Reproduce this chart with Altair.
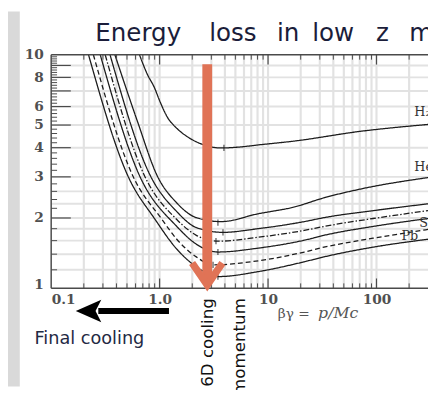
import altair as alt
import pandas as pd

# ---------------- data ----------------
materials = ["H2 liquid", "He gas", "C", "Al", "Fe", "Sn", "Pb"]

h2_bg   = [0.652, 0.771, 0.891, 1.01, 1.169, 1.44, 1.774, 2.42, 3.68, 5.58, 8.12, 17.5, 71, 299]
h2_dedx = [10.0, 8.24, 7.27, 6.29, 5.44, 4.84, 4.48, 4.15, 3.99, 4.03, 4.11, 4.27, 4.70, 5.03]
he_bg   = [0.387, 0.625, 0.948, 1.44, 2.18, 3.68, 8.12, 17.5, 32.8, 71, 299]
he_dedx = [10.0, 5.18, 3.04, 2.32, 2.007, 1.93, 2.085, 2.23, 2.44, 2.66, 2.98]
c_bg    = [0.349, 0.820, 1.44, 2.18, 3.84, 8.12, 21.6, 32.8, 93, 299]
c_dedx  = [10.0, 3.04, 2.13, 1.82, 1.736, 1.80, 1.93, 2.007, 2.15, 2.30]
al_bg   = [0.315, 0.724, 1.44, 2.18, 3.45, 8.12, 21.6, 32.8, 93, 299]
al_dedx = [10.0, 3.04, 1.97, 1.686, 1.591, 1.654, 1.77, 1.84, 1.99, 2.15]
fe_bg   = [0.2835, 0.652, 1.44, 2.18, 3.45, 8.12, 21.6, 32.8, 93, 299]
fe_dedx = [10.0, 3.04, 1.84, 1.545, 1.43, 1.486, 1.607, 1.686, 1.84, 1.99]
sn_bg   = [0.245, 0.564, 1.053, 1.44, 2.18, 3.11, 8.12, 21.6, 32.8, 93, 299]
sn_dedx = [10.0, 3.04, 1.97, 1.622, 1.363, 1.261, 1.311, 1.43, 1.50, 1.638, 1.787]
pb_bg   = [0.221, 0.508, 0.910, 1.44, 2.18, 3.53, 8.12, 21.6, 32.8, 93, 299]
pb_dedx = [10.0, 3.04, 1.97, 1.472, 1.237, 1.123, 1.179, 1.299, 1.363, 1.50, 1.622]

# minimum-ionisation markers
min_bg   = [3.92, 3.45, 3.84, 3.31, 3.45, 3.11, 3.45]
min_dedx = [3.99, 1.912, 1.736, 1.591, 1.43, 1.261, 1.123]

# axis ticks / labels
x_label_values = [0.1, 1, 10, 100]
x_label_text = ["0.1", "1.0", "10", "100"]
y_label_values = [1, 2, 3, 4, 5, 6, 8, 10]
grid_x = [0.2, 0.3, 0.4, 0.5, 0.6, 0.7, 0.8, 0.9, 1, 2, 3, 4, 5, 6, 7, 8, 9,
          10, 20, 30, 40, 50, 60, 70, 80, 90, 100, 200]
grid_y = [1.2, 1.4, 1.6, 1.8, 2, 2.3, 2.6, 3, 4, 5, 6, 7, 8, 9]
x_major_ticks = [1, 10, 100]
x_minor_ticks = [v for v in grid_x if v not in x_major_ticks]
y_major_ticks = [2, 3, 4, 5, 6, 7, 8, 9]
y_minor_ticks = [round(1 + 0.2 * i, 1) for i in range(1, 45)]
y_minor_ticks = [v for v in y_minor_ticks if v not in y_major_ticks]

# annotations (in beta-gamma / dE/dx units)
cooling_6d_bg = 2.75
arrow6d_top, arrow6d_shaft_end, arrow6d_head = 9.1, 1.08, 1.16
final_arrow_y = 0.80
final_arrow_from, final_arrow_to, final_arrow_head = 1.22, 0.272, 0.221

# ---------------- layout ----------------
W, H = 384, 238
DECADE_PX = 110.5
x_max = 0.1 * 10 ** (W / DECADE_PX)

xs = alt.Scale(type="log", domain=[0.1, x_max], nice=False)
ys = alt.Scale(type="log", domain=[1, 10], nice=False)

FRAME = "#4a4a4a"
GRID = "#e2e2e2"
INK = "#1c1c1c"
SERIF = "DejaVu Serif"
SANS = "DejaVu Sans"

rows = []
for m, bgs, vals in zip(materials,
                        [h2_bg, he_bg, c_bg, al_bg, fe_bg, sn_bg, pb_bg],
                        [h2_dedx, he_dedx, c_dedx, al_dedx, fe_dedx, sn_dedx, pb_dedx]):
    for b, v in zip(bgs, vals):
        rows.append({"material": m, "bg": b, "dedx": v})
curves_df = pd.DataFrame(rows)
mins_df = pd.DataFrame({"material": materials, "bg": min_bg, "dedx": min_dedx})

one = pd.DataFrame({"_": [0]})

label_expr = " : ".join(
    f"datum.value < {v * 3.2} ? '{t}'" for v, t in zip(x_label_values[:-1], x_label_text[:-1])
) + f" : '{x_label_text[-1]}'"

x_axis = alt.Axis(values=x_label_values, labelExpr=label_expr, title=None, grid=False,
                  ticks=False, tickSize=0, domain=False, labelFont=SERIF, labelFontSize=14,
                  labelFontWeight="bold", labelColor="#505050", labelPadding=5,
                  labelBaseline="top")
y_axis = alt.Axis(values=y_label_values, title=None, grid=False, ticks=False, tickSize=0,
                  domain=False, labelFont=SERIF, labelFontSize=14, labelFontWeight="bold",
                  labelColor="#505050", labelPadding=8,
                  labelBaseline={"condition": {"test": "datum.value == 1", "value": "alphabetic"},
                                 "value": "middle"})


def X(field):
    return alt.X(field, type="quantitative", scale=xs, axis=x_axis)


def Y(field):
    return alt.Y(field, type="quantitative", scale=ys, axis=y_axis)


# slide decoration: grey strip at left
strip = alt.Chart(one).mark_rect(color="#d9d9d9").encode(
    x=alt.value(-44), x2=alt.value(-32), y=alt.value(-44), y2=alt.value(338))

gx = alt.Chart(pd.DataFrame({"v": grid_x})).mark_rule(color=GRID, strokeWidth=2.2).encode(
    x=X("v"), y=alt.value(0), y2=alt.value(H))
gy = alt.Chart(pd.DataFrame({"v": grid_y})).mark_rule(color=GRID, strokeWidth=2).encode(
    y=Y("v"), x=alt.value(0), x2=alt.value(W))

frame_top = alt.Chart(one).mark_rule(color=FRAME, strokeWidth=1.5).encode(
    x=alt.value(0), x2=alt.value(W), y=alt.value(0))
frame_bottom = alt.Chart(one).mark_rule(color=FRAME, strokeWidth=1.5).encode(
    x=alt.value(0), x2=alt.value(W), y=alt.value(H))
frame_left = alt.Chart(one).mark_rule(color=FRAME, strokeWidth=1.5).encode(
    x=alt.value(0), y=alt.value(0), y2=alt.value(H))

ty_major = alt.Chart(pd.DataFrame({"v": y_major_ticks})).mark_rule(color=FRAME, strokeWidth=1.2).encode(
    y=Y("v"), x=alt.value(0), x2=alt.value(20))
ty_minor = alt.Chart(pd.DataFrame({"v": y_minor_ticks})).mark_rule(color=FRAME, strokeWidth=1).encode(
    y=Y("v"), x=alt.value(0), x2=alt.value(6))
tx_major_b = alt.Chart(pd.DataFrame({"v": x_major_ticks})).mark_rule(color=FRAME, strokeWidth=1.2).encode(
    x=X("v"), y=alt.value(H), y2=alt.value(H - 10))
tx_minor_b = alt.Chart(pd.DataFrame({"v": x_minor_ticks})).mark_rule(color=FRAME, strokeWidth=1).encode(
    x=X("v"), y=alt.value(H), y2=alt.value(H - 5))
tx_major_t = alt.Chart(pd.DataFrame({"v": x_major_ticks})).mark_rule(color=FRAME, strokeWidth=1.2).encode(
    x=X("v"), y=alt.value(0), y2=alt.value(10))
tx_minor_t = alt.Chart(pd.DataFrame({"v": x_minor_ticks})).mark_rule(color=FRAME, strokeWidth=1).encode(
    x=X("v"), y=alt.value(0), y2=alt.value(5))

dashes = [[1, 0], [1, 0], [1, 0], [6, 2, 1.5, 2], [1, 0], [5, 3], [1, 0]]
curves = alt.Chart(curves_df).mark_line(color=INK, strokeWidth=1.3, interpolate="monotone").encode(
    x=X("bg"), y=Y("dedx"),
    detail="material:N",
    strokeDash=alt.StrokeDash("material:N", scale=alt.Scale(domain=materials, range=dashes), legend=None),
)

markers = alt.Chart(mins_df).mark_point(shape="M0,-1L0,1", size=40, filled=False,
                                        color=INK, strokeWidth=1.3).encode(x=X("bg"), y=Y("dedx"))

right_labels = []
for txt, px, py in [("H\u2082 liquid", 370, 58), ("He gas", 370, 114), ("Sn", 375, 172), ("Pb", 357, 185)]:
    right_labels.append(alt.Chart(one).mark_text(text=txt, font=SERIF, fontSize=13, color="#333333",
                                                 align="left", baseline="middle").encode(
        x=alt.value(px), y=alt.value(py)))

# orange 6D cooling arrow
orange = "#E07356"
arrow_df = pd.DataFrame({"bg": [cooling_6d_bg], "top": [arrow6d_top], "end": [arrow6d_shaft_end],
                         "head": [arrow6d_head]})
shaft6d = alt.Chart(arrow_df).mark_rule(color=orange, strokeWidth=10).encode(
    x=X("bg"), y=Y("top"), y2="end")
head6d = alt.Chart(arrow_df).mark_point(
    shape="M0,1L-1,-0.45L-0.67,-0.68L0,0.29L0.67,-0.68L1,-0.45Z",
    size=1369, filled=True, color=orange, opacity=1).encode(x=X("bg"), y=Y("head"))

# black final-cooling arrow
farrow_df = pd.DataFrame({"from": [final_arrow_from], "to": [final_arrow_to],
                          "head": [final_arrow_head], "y": [final_arrow_y]})
fshaft = alt.Chart(farrow_df).mark_rule(color="black", strokeWidth=6).encode(
    x=X("from"), x2="to", y=Y("y"))
fhead = alt.Chart(farrow_df).mark_point(
    shape="M-1,0L1,-0.88L0.55,0L1,0.88Z", size=676, filled=True, color="black", opacity=1).encode(
    x=X("head"), y=Y("y"))

# texts
texts = []
for word, px in [("Energy", 45), ("loss", 161), ("in", 230), ("low", 266), ("z", 331), ("materials", 365)]:
    texts.append(alt.Chart(one).mark_text(text=word, font=SANS, fontSize=25, color="#1b1d3a",
                                          align="left", baseline="alphabetic").encode(
        x=alt.value(px), y=alt.value(-14)))
texts.append(alt.Chart(one).mark_text(text="Final cooling", font=SANS, fontSize=18, color="#1f2a44",
                                      align="left", baseline="alphabetic").encode(
    x=alt.value(-17), y=alt.value(295)))
texts.append(alt.Chart(one).mark_text(text="6D cooling", font=SANS, fontSize=17, color="#111",
                                      align="right", baseline="middle", angle=270).encode(
    x=alt.value(160), y=alt.value(248)))
texts.append(alt.Chart(one).mark_text(text="momentum", font=SANS, fontSize=17, color="#111",
                                      align="right", baseline="middle", angle=270).encode(
    x=alt.value(193), y=alt.value(248)))
texts.append(alt.Chart(one).mark_text(text="\u03b2\u03b3 =", font=SERIF, fontSize=14, color="#555",
                                      align="left", baseline="alphabetic").encode(
    x=alt.value(231), y=alt.value(268)))
texts.append(alt.Chart(one).mark_text(text="p/Mc", font=SERIF, fontSize=16, fontStyle="italic",
                                      color="#555", align="left", baseline="alphabetic").encode(
    x=alt.value(272), y=alt.value(268)))

chart = alt.layer(
    strip, gx, gy, curves, frame_top, frame_bottom, frame_left,
    ty_major, ty_minor, tx_major_b, tx_minor_b, tx_major_t, tx_minor_t,
    markers, *right_labels, shaft6d, head6d, fshaft, fhead, *texts,
).properties(
    width=W, height=H,
    autosize=alt.AutoSizeParams(type="none"),
    padding={"left": 44, "top": 44, "right": 0, "bottom": 100},
    background="white",
).configure_view(stroke=None)

chart.save("out.html", embed_options={"renderer": "svg", "actions": False})
